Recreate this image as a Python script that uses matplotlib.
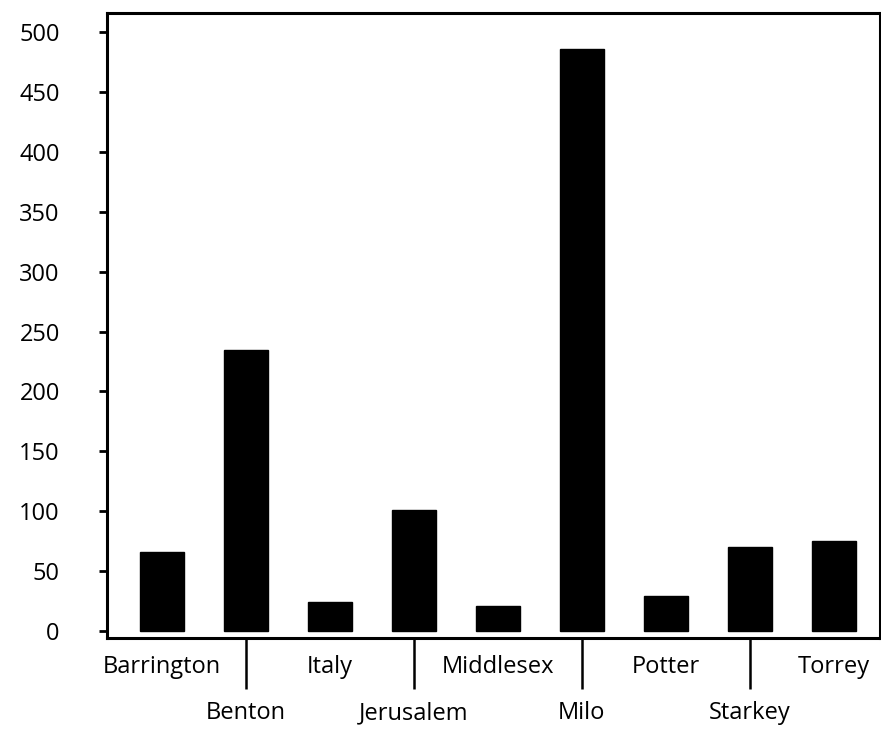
import matplotlib
matplotlib.use("Agg")
import matplotlib.pyplot as plt
import numpy as np

categories = ["Barrington", "Benton", "Italy", "Jerusalem", "Middlesex",
              "Milo", "Potter", "Starkey", "Torrey"]
values = [66, 235, 24, 101, 21, 486, 29, 70, 75]
yticks = [0, 50, 100, 150, 200, 250, 300, 350, 400, 450, 500]

plt.rcParams['font.family'] = ['Open Sans', 'DejaVu Sans']

fig = plt.figure(figsize=(8.81, 7.30), dpi=100)
ax = fig.add_axes([107/881, 1-638/730, (880-107)/881, (638-13)/730])

x = np.arange(len(categories))
ax.bar(x, values, width=0.52, color='black', edgecolor='black')

ax.set_xlim(-0.655, 8.55)
ax.set_ylim(-5.8, 515.9)

for s in ax.spines.values():
    s.set_linewidth(2.2)
    s.set_color('black')

ax.set_yticks(yticks)
ax.set_yticklabels([str(v) for v in yticks], fontsize=17)
ax.tick_params(axis='y', direction='out', length=6, width=2, pad=28)

ax.set_xticks(x)
ax.set_xticklabels(categories, fontsize=17)
ax.tick_params(axis='x', direction='out', width=1.8, pad=9)
for i, t in enumerate(ax.xaxis.get_major_ticks()):
    if i % 2 == 1:
        t.set_pad(42)
for i, t in enumerate(ax.xaxis.get_major_ticks()):
    if i % 2 == 1:
        t.tick1line.set_markersize(37)
    else:
        t.tick1line.set_markersize(0)

fig.savefig("out.png", dpi=100)
